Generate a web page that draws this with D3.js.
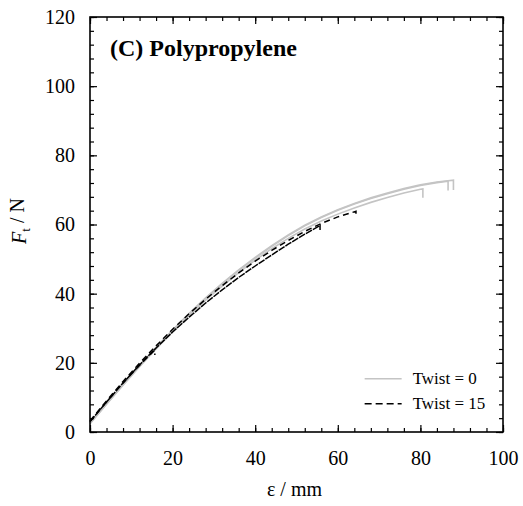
<!DOCTYPE html>
<html lang="en">
<head>
    <meta charset="UTF-8">
    <title>Polypropylene tensile curves</title>
    <script src="https://d3js.org/d3.v7.min.js"></script>
    <style>
        body { margin: 0; background: #fff; }
    </style>
</head>
<body>
    <div id="chart"></div>
    <script>
        // tick values
        const xMajorTicks = [0, 20, 40, 60, 80, 100];
        const yMajorTicks = [0, 20, 40, 60, 80, 100, 120];
        const minorStep = 4;

        // Twist = 0 (grey) curves, [strain, force]
        const twist0a = [[0,2.5],[4,8.0],[8,13.5],[12,18.9],[16,24.0],[20,29.0],[24,33.7],[28,38.1],[32,42.2],[36,46.1],[40,49.7],[44,53.0],[48,56.0],[52,58.7],[56,61.0],[60,63.0],[64,64.8],[68,66.4],[72,67.8],[76,69.1],[80,70.2],[80.6,70.3],[80.6,67.7]];
        const twist0b = [[0,2.4],[4,8.1],[8,13.7],[12,19.1],[16,24.3],[20,29.3],[24,34.1],[28,38.6],[32,42.8],[36,46.7],[40,50.3],[44,53.7],[48,56.8],[52,59.6],[56,62.0],[60,64.1],[64,65.9],[68,67.5],[72,68.9],[76,70.2],[80,71.3],[84,72.1],[86.7,72.5],[86.7,69.8]];
        const twist0c = [[0,2.6],[4,8.2],[8,13.8],[12,19.3],[16,24.5],[20,29.5],[24,34.3],[28,38.8],[32,43.0],[36,46.9],[40,50.5],[44,53.9],[48,57.0],[52,59.8],[56,62.2],[60,64.3],[64,66.1],[68,67.7],[72,69.1],[76,70.4],[80,71.5],[84,72.3],[88,72.8],[88,70.0]];

        // Twist = 15 (black dashed) curves
        const twist15a = [[0,3.0],[4,8.7],[8,14.2],[12,19.3],[15.7,23.7],[15.7,22.3]];
        const twist15b = [[0,3.0],[4,8.7],[8,14.2],[12,19.4],[16,24.3],[20,28.9],[24,33.2],[28,37.3],[32,41.1],[36,44.7],[40,48.0],[44,51.2],[48,54.3],[52,57.2],[55.7,59.7],[55.7,58.4]];
        const twist15c = [[0,3.2],[4,9.0],[8,14.6],[12,19.9],[16,24.9],[20,29.7],[24,34.2],[28,38.4],[32,42.3],[36,46.0],[40,49.4],[44,52.5],[48,55.4],[52,58.0],[56,60.3],[60,62.2],[64.4,63.8],[64.4,62.2]];

        const legendLabels = ["Twist = 0", "Twist = 15"];

        const serif = "'Liberation Serif', 'Times New Roman', Times, serif";
        const width = 523;
        const height = 506;
        const margin = { top: 17, right: 20, bottom: 74, left: 90 };
        const innerW = width - margin.left - margin.right;
        const innerH = height - margin.top - margin.bottom;

        const svg = d3.select("#chart").append("svg")
            .attr("width", width)
            .attr("height", height)
            .style("font-family", serif);

        const g = svg.append("g")
            .attr("transform", `translate(${margin.left},${margin.top})`);

        const x = d3.scaleLinear().domain([0, 100]).range([0, innerW]);
        const y = d3.scaleLinear().domain([0, 120]).range([innerH, 0]);

        const xMinor = d3.range(0, 100.01, minorStep);
        const yMinor = d3.range(0, 120.01, minorStep);

        // curves
        const line = d3.line().x(d => x(d[0])).y(d => y(d[1]));
        const greyCurves = [twist0a, twist0b, twist0c];
        const blackCurves = [twist15a, twist15b, twist15c];

        g.selectAll(".grey")
            .data(greyCurves)
            .enter().append("path")
            .attr("class", "grey")
            .attr("d", line)
            .attr("fill", "none")
            .attr("stroke", "#c4c4c4")
            .attr("stroke-width", 1.6);

        g.selectAll(".black")
            .data(blackCurves)
            .enter().append("path")
            .attr("class", "black")
            .attr("d", line)
            .attr("fill", "none")
            .attr("stroke", "#000")
            .attr("stroke-width", 1.5)
            .attr("stroke-dasharray", (d, i) => i === 1 ? "7,1" : "6,4");

        // axes with inward ticks on all sides
        function styleAxis(sel) {
            sel.attr("font-family", null).attr("font-size", null);
            sel.select(".domain").remove();
            sel.selectAll(".tick line").attr("stroke", "#000").attr("stroke-width", 1.2);
            sel.selectAll("text")
                .style("font-family", serif)
                .style("font-size", "20px")
                .attr("fill", "#000");
        }

        g.append("g").attr("transform", `translate(0,${innerH})`)
            .call(d3.axisBottom(x).tickValues(xMinor).tickSize(-4).tickFormat(""))
            .call(styleAxis);
        g.append("g").attr("transform", `translate(0,${innerH})`)
            .call(d3.axisBottom(x).tickValues(xMajorTicks).tickSize(-7).tickPadding(19).tickFormat(d3.format("d")))
            .call(styleAxis);
        g.append("g")
            .call(d3.axisTop(x).tickValues(xMinor).tickSize(-4).tickFormat(""))
            .call(styleAxis);
        g.append("g")
            .call(d3.axisTop(x).tickValues(xMajorTicks).tickSize(-7).tickFormat(""))
            .call(styleAxis);

        g.append("g")
            .call(d3.axisLeft(y).tickValues(yMinor).tickSize(-4).tickFormat(""))
            .call(styleAxis);
        g.append("g")
            .call(d3.axisLeft(y).tickValues(yMajorTicks).tickSize(-7).tickPadding(15).tickFormat(d3.format("d")))
            .call(styleAxis);
        g.append("g").attr("transform", `translate(${innerW},0)`)
            .call(d3.axisRight(y).tickValues(yMinor).tickSize(-4).tickFormat(""))
            .call(styleAxis);
        g.append("g").attr("transform", `translate(${innerW},0)`)
            .call(d3.axisRight(y).tickValues(yMajorTicks).tickSize(-7).tickFormat(""))
            .call(styleAxis);

        g.append("rect")
            .attr("width", innerW)
            .attr("height", innerH)
            .attr("fill", "none")
            .attr("stroke", "#000")
            .attr("stroke-width", 1.6);

        // title inside the plot
        g.append("text")
            .attr("x", 20)
            .attr("y", 39)
            .style("font-family", serif)
            .style("font-size", "24px")
            .style("font-weight", "bold")
            .text("(C) Polypropylene");

        // legend
        const legend = g.append("g").attr("transform", `translate(${x(66.5)},${y(15.4)})`);
        legendLabels.forEach((label, i) => {
            const row = legend.append("g").attr("transform", `translate(0,${i * 25})`);
            row.append("line")
                .attr("x1", 0).attr("x2", 37)
                .attr("stroke", i === 0 ? "#c4c4c4" : "#000")
                .attr("stroke-width", 1.6)
                .attr("stroke-dasharray", i === 0 ? null : "7,4");
            row.append("text")
                .attr("x", 48)
                .attr("dy", "0.33em")
                .style("font-family", serif)
                .style("font-size", "17px")
                .text(label);
        });

        // axis titles
        svg.append("text")
            .attr("x", margin.left + innerW / 2 - 2)
            .attr("y", 496)
            .attr("text-anchor", "middle")
            .style("font-family", serif)
            .style("font-size", "20px")
            .text("ε / mm");

        const yTitle = svg.append("text")
            .attr("transform", `translate(26,${margin.top + y(61)}) rotate(-90)`)
            .attr("text-anchor", "middle")
            .style("font-family", serif)
            .style("font-size", "20px");
        yTitle.append("tspan").style("font-style", "italic").text("F");
        yTitle.append("tspan").attr("dy", "0.3em").style("font-size", "13px").text("t");
        yTitle.append("tspan").attr("dy", "-0.3em").text(" / N");
    </script>
</body>
</html>
